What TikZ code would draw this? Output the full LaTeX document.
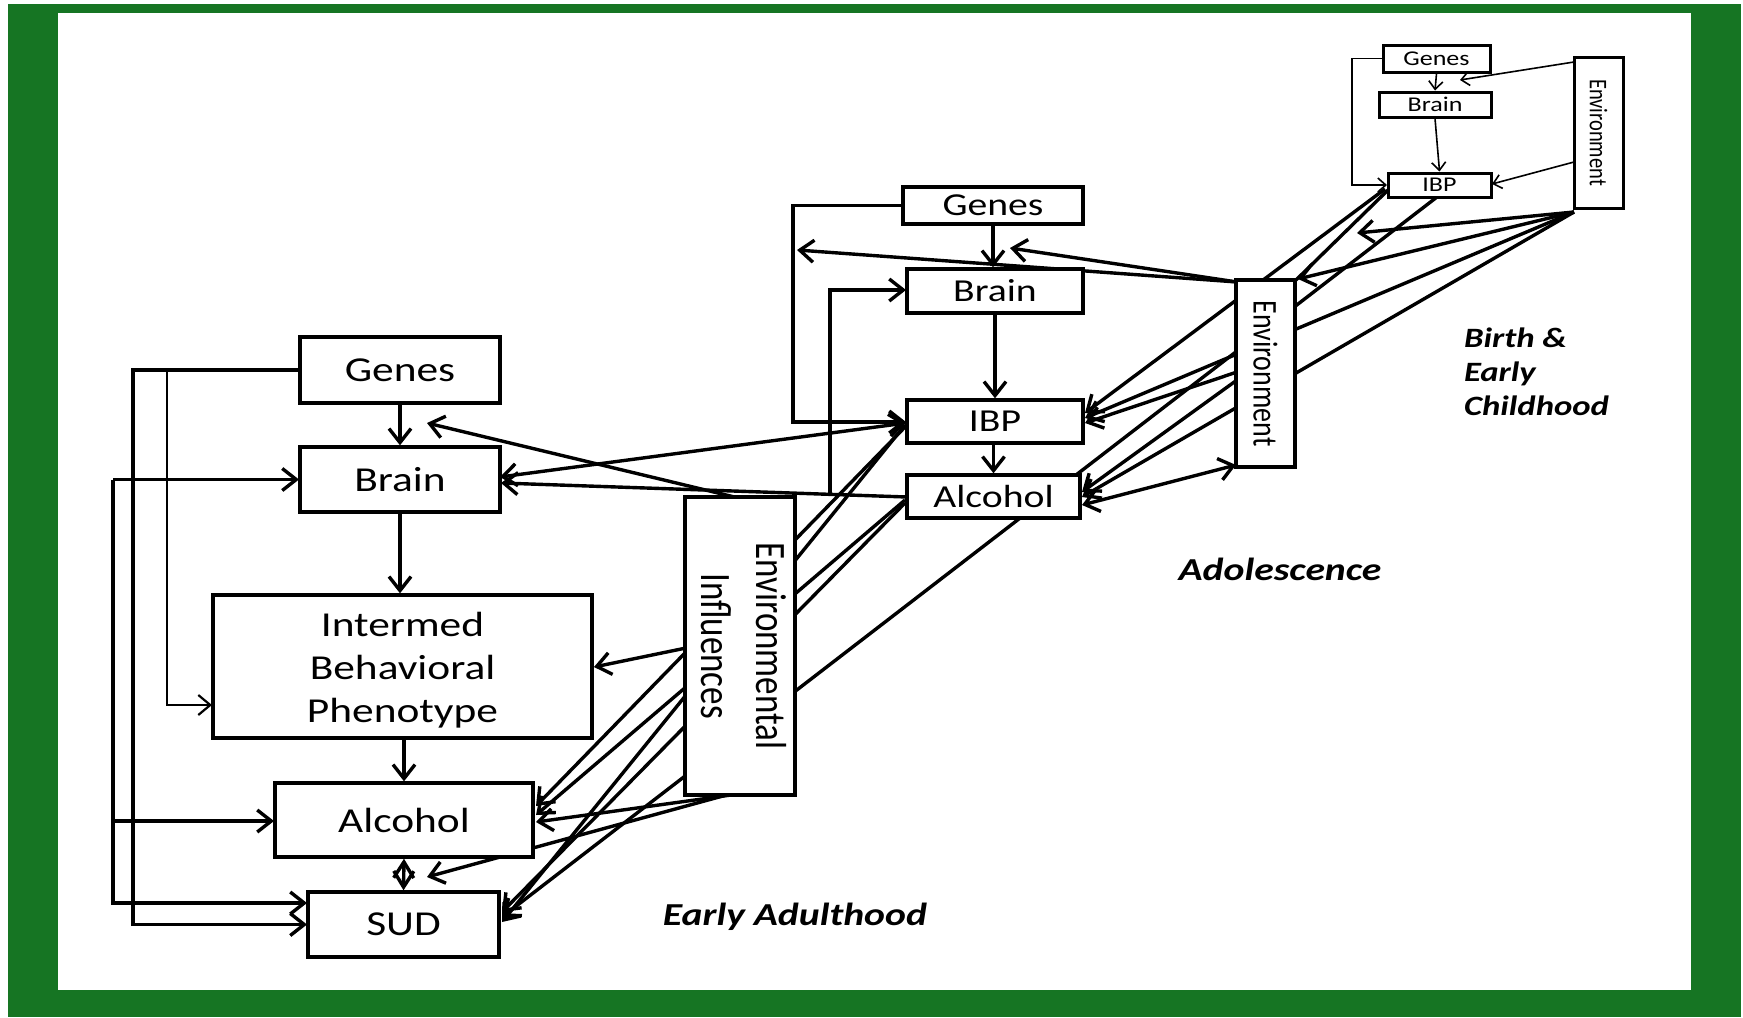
\documentclass[tikz,border=0pt]{standalone}
\usepackage{fontspec}
\setmainfont{Carlito}[FakeStretch=1.24]
\newfontfamily\rotfont{Carlito}
\usetikzlibrary{arrows.meta}
\definecolor{framegreen}{RGB}{22,117,35}
\begin{document}
\begin{tikzpicture}[x=0.5pt,y=-0.5pt,
  box/.style={draw, line width=1.7pt, fill=white, inner sep=0pt, anchor=center},
  bigtxt/.style={font=\fontsize{17.5}{21.5}\selectfont},
  midtxt/.style={font=\fontsize{16}{19}\selectfont},
  smalltxt/.style={font=\fontsize{10.5}{12}\selectfont},
  conn/.style={line width=1.7pt, -{Straight Barb[length=7pt,width=11pt]}},
  biconn/.style={line width=1.7pt, {Straight Barb[length=7pt,width=11pt]}-{Straight Barb[length=7pt,width=11pt]}},
  diam/.style={line width=1.7pt, {Straight Barb[length=8pt,width=10pt]}-{Straight Barb[length=8pt,width=10pt]}},
  plainln/.style={line width=1.7pt},
  thinconn/.style={line width=1.1pt, -{Straight Barb[length=6pt,width=10pt]}},
  tinyconn/.style={line width=0.8pt, -{Straight Barb[length=4pt,width=7pt]}},
  lbl/.style={font=\fontsize{16}{19}\selectfont\bfseries\itshape, inner sep=0pt}]

\useasboundingbox (0,0) rectangle (1743,1017);
\fill[framegreen] (8,4) rectangle (1741,1017);
\fill[white] (58,13) rectangle (1691,990);

% ---------- node positions ----------
\coordinate (pLGenes) at (400,370);
\coordinate (pLBrain) at (400,479.5);
\coordinate (pLIBP) at (402.5,666.5);
\coordinate (pLAlc) at (404,820);
\coordinate (pLSUD) at (403.5,924.5);

% ---------- connectors (drawn beneath the opaque boxes) ----------
% mid/birth to left
\draw[biconn] (500,477) -- (906,423);
\draw[conn] (907,497) -- (501,483);
\draw[conn] (830,494.4) -- (830,290) -- (906,290);
\draw[conn] (747,500) -- (427,423);
\draw[conn] (686,648) -- (594,667);
\draw[conn] (905,427) -- (536,806);
\draw[conn] (905,425) -- (502,922);
\draw[conn] (905,500) -- (536,815);
\draw[conn] (905,503) -- (502,912);
\draw[conn] (1437,197) -- (502,917);
\draw[conn] (738,794) -- (536,822);
\draw[conn] (730,794) -- (427,877);

% left bus lines
\draw[conn] (300,370) -- (133,370) -- (133,924.5) -- (307,924.5);
\draw[thinconn] (167,370) -- (167,705) -- (212,705);
\draw[conn] (113,479.5) -- (299,479.5);
\draw[conn] (113,479.5) -- (113,903) -- (307,903);
\draw[conn] (113,821) -- (274,821);

% mid column
\draw[conn] (903,205.5) -- (793,205.5) -- (793,422) -- (906,422);
\draw[conn] (1237,282) -- (797,250);
\draw[conn] (1237,282) -- (1010,248);
\draw[conn] (1237,372) -- (1085,423);
\draw[conn] (1237,380) -- (1082,492);
\draw[biconn] (1082,505) -- (1236,465);

% birth to mid
\draw[conn] (1385,189) -- (1085,413);
\draw[conn] (1574,212) -- (1085,418);
\draw[conn] (1574,212) -- (1082,497);
\draw[conn] (1574,212) -- (1357,233);
\draw[conn] (1574,212) -- (1298,279);
\draw[plainln] (1388,190) -- (1296,280);

% birth column
\draw[tinyconn] (1383,58.5) -- (1352,58.5) -- (1352,185) -- (1387,185);
\draw[tinyconn] (1574,62) -- (1460,80);
\draw[tinyconn] (1574,162) -- (1492,184);

% ---------- boxes ----------
\node[box, bigtxt, minimum width=100pt, minimum height=33pt] (LGenes) at (pLGenes) {Genes};
\node[box, bigtxt, minimum width=100pt, minimum height=32.5pt] (LBrain) at (pLBrain) {Brain};
\node[box, bigtxt, minimum width=189.5pt, minimum height=71.5pt] (LIBP) at (pLIBP)
  {\raisebox{-2.2pt}[\height][\depth]{\begin{tabular}{@{}c@{}}Intermed\\Behavioral\\Phenotype\end{tabular}}};
\node[box, bigtxt, minimum width=129pt, minimum height=37pt] (LAlc) at (pLAlc) {Alcohol};
\node[box, bigtxt, minimum width=95.5pt, minimum height=32.5pt] (LSUD) at (pLSUD) {SUD};

\node[box, rotate=-90, minimum width=149pt, minimum height=55pt] (EI) at (740,646)
  {\rotfont\fontsize{17.5}{22}\selectfont\scalebox{1}[1.24]{\begin{tabular}{@{}c@{}}Environmental\\Influences\end{tabular}}};

\node[box, midtxt, minimum width=90pt, minimum height=18.5pt] (MGenes) at (993,205.5) {Genes};
\node[box, midtxt, minimum width=88pt, minimum height=22pt] (MBrain) at (995,291) {Brain};
\node[box, midtxt, minimum width=88pt, minimum height=21.5pt] (MIBP) at (995,421.5) {IBP};
\node[box, midtxt, minimum width=86.5pt, minimum height=21.5pt] (MAlc) at (993.5,496.5) {Alcohol};
\node[box, rotate=-90, minimum width=93.5pt, minimum height=29.5pt] (ME) at (1265.5,373.5)
  {\rotfont\fontsize{14}{17}\selectfont\scalebox{1}[1.24]{Environment}};

\node[box, smalltxt, line width=1.5pt, minimum width=53.5pt, minimum height=13.5pt] (BGenes) at (1436.5,58.5) {Genes};
\node[box, smalltxt, line width=1.5pt, minimum width=56pt, minimum height=12.5pt] (BBrain) at (1435,104.5) {Brain};
\node[box, smalltxt, line width=1.5pt, minimum width=51.5pt, minimum height=12pt] (BIBP) at (1439.5,185) {IBP};
\node[box, line width=1.5pt, rotate=-90, minimum width=75.5pt, minimum height=24.5pt] (BEnv) at (1598.5,132.5)
  {\rotfont\fontsize{10.25}{12}\selectfont\scalebox{1}[1.24]{Environment}};

% ---------- connectors between adjacent boxes ----------
\draw[conn] (LGenes.south) -- (LBrain.north);
\draw[conn] (LBrain.south) -- (LBrain.south |- LIBP.north);
\draw[conn] (LIBP.south -| LAlc.north) -- (LAlc.north);
\draw[diam] (LAlc.south) -- (LSUD.south |- LSUD.north);
\draw[conn] (MGenes.south) -- (MGenes.south |- MBrain.north);
\draw[conn] (MBrain.south) -- (MIBP.north);
\draw[conn] (MIBP.south -| MAlc.north) -- (MAlc.north);
\draw[tinyconn] (BGenes.south) -- (BBrain.north);
\draw[tinyconn] (BBrain.south) -- (BIBP.north);

% ---------- stage labels ----------
\node[lbl] (tEA) at (795,917) {Early Adulthood};
\node[lbl] (tAd) at (1280,569) {Adolescence};
\node[lbl, align=left, font=\fontsize{14}{17}\selectfont\bfseries\itshape] (tBi) at (1536.5,372) {Birth \&\\Early\\Childhood};
\end{tikzpicture}
\end{document}
